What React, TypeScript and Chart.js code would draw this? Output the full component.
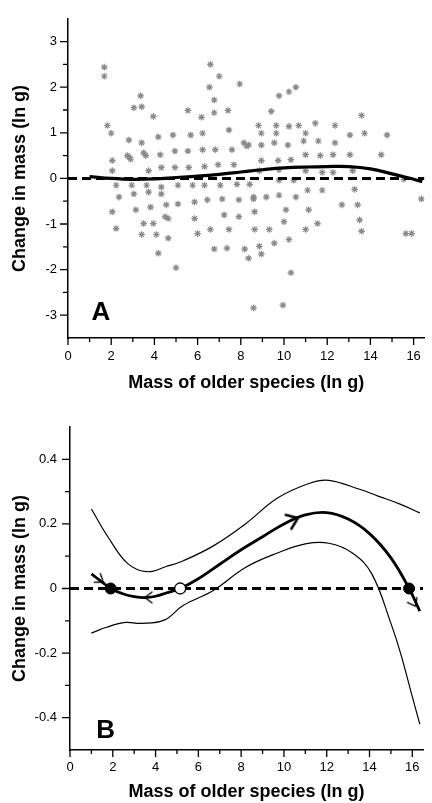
import React, { useEffect, useRef } from 'react';
import { Chart, registerables } from 'chart.js';
Chart.register(...registerables);

// ---------- Panel A data ----------
const scatterX = [
  1.68, 1.68, 3.36, 3.41, 3.05, 3.95, 1.82, 2.0, 2.82, 3.41, 4.18, 4.86, 5.68, 6.23, 6.18, 6.77, 7.41, 6.59, 7.0, 7.95,
  6.55, 6.77, 5.55, 7.45, 8.14, 2.82, 3.5, 4.27, 4.95, 5.55, 6.23, 6.82, 7.59, 8.27, 2.05, 4.32, 4.95, 5.59, 6.32, 6.95,
  7.68, 3.73, 2.05, 10.55, 9.77, 10.23, 9.41, 8.82, 9.64, 10.23, 10.68, 11.45, 12.36, 8.95, 9.64, 11.0, 13.59, 13.05, 13.73, 14.77,
  8.36, 8.95, 9.55, 10.18, 10.91, 11.59, 12.36, 8.95, 9.73, 10.32, 11.0, 11.68, 12.27, 13.05, 14.5, 11.0, 11.77, 12.27, 15.55, 8.86,
  9.77, 13.18, 2.23, 2.95, 3.64, 4.32, 5.09, 5.77, 6.32, 7.05, 7.82, 8.41, 2.36, 3.05, 3.73, 4.32, 5.09, 5.86, 6.45, 7.14,
  7.91, 8.59, 3.14, 3.82, 4.55, 2.05, 4.64, 5.86, 7.23, 7.91, 3.5, 3.95, 4.5, 4.09, 3.41, 4.64, 6.0, 6.59, 7.45, 4.18,
  6.77, 7.36, 8.18, 5.0, 2.23, 9.77, 10.45, 13.27, 8.59, 9.18, 9.77, 10.55, 11.09, 11.77, 10.09, 8.64, 11.14, 12.68, 13.41, 10.0,
  11.55, 13.5, 16.36, 8.64, 9.32, 11.0, 13.59, 9.55, 10.23, 8.86, 15.64, 15.91, 8.36, 8.95, 10.32, 8.59, 9.95, 2.9, 2.75, 3.6
];
const scatterY = [
  2.44, 2.24, 1.81, 1.57, 1.55, 1.36, 1.16, 0.99, 0.84, 0.78, 0.91, 0.95, 0.95, 0.99, 1.34, 1.44, 1.49, 2.5, 2.24, 2.07,
  2.0, 1.72, 1.49, 1.06, 0.78, 0.47, 0.56, 0.52, 0.6, 0.6, 0.63, 0.63, 0.63, 0.71, 0.39, 0.24, 0.24, 0.24, 0.26, 0.3,
  0.3, 0.17, 0.17, 2.0, 1.81, 1.9, 1.47, 1.16, 1.16, 1.14, 1.16, 1.21, 1.16, 0.99, 0.99, 0.99, 1.38, 0.95, 0.99, 0.95,
  0.73, 0.73, 0.78, 0.73, 0.82, 0.82, 0.78, 0.39, 0.39, 0.41, 0.52, 0.5, 0.52, 0.52, 0.52, 0.17, 0.13, 0.13, -0.02, 0.17,
  0.19, 0.17, -0.15, -0.15, -0.15, -0.19, -0.15, -0.15, -0.15, -0.15, -0.13, -0.13, -0.41, -0.34, -0.3, -0.34, -0.56, -0.52, -0.47, -0.45,
  -0.47, -0.45, -0.69, -0.63, -0.58, -0.73, -0.88, -0.88, -0.8, -0.84, -0.99, -0.99, -0.84, -1.23, -1.23, -1.31, -1.21, -1.12, -1.12, -1.64,
  -1.55, -1.53, -1.55, -1.96, -1.1, -0.04, -0.04, -0.24, -0.41, -0.41, -0.37, -0.41, -0.26, -0.26, -0.69, -0.73, -0.69, -0.58, -0.58, -0.95,
  -0.99, -0.91, -0.45, -1.12, -1.12, -1.12, -1.16, -1.42, -1.34, -1.49, -1.21, -1.21, -1.75, -1.66, -2.07, -2.84, -2.78, 0.42, 0.5, 0.5
];
const fitAX = [1.0, 2.0, 3.0, 4.0, 5.0, 6.0, 7.0, 8.0, 9.0, 10.0, 11.0, 12.0, 13.0, 14.0, 15.0, 16.0, 16.4];
const fitAY = [0.04, 0.0, -0.02, -0.01, 0.02, 0.05, 0.09, 0.14, 0.19, 0.23, 0.25, 0.26, 0.26, 0.21, 0.1, -0.02, -0.07];

// ---------- Panel B data ----------
const fitBX = [1.0, 1.5, 1.9, 2.5, 3.0, 3.5, 4.0, 4.5, 5.15, 6.0, 7.0, 8.0, 9.0, 10.0, 11.0, 12.0, 13.0, 14.0, 15.0, 15.85, 16.35];
const fitBY = [0.045, 0.02, 0.0, -0.017, -0.025, -0.028, -0.024, -0.014, 0.0, 0.03, 0.075, 0.12, 0.16, 0.2, 0.228, 0.235, 0.215, 0.17, 0.095, 0.0, -0.07];
const upperBX = [1.0, 1.8, 2.7, 3.6, 4.5, 5.3, 6.7, 8.2, 9.7, 11.2, 12.1, 13.5, 14.4, 15.4, 16.35];
const upperBY = [0.246, 0.157, 0.077, 0.052, 0.068, 0.086, 0.132, 0.2, 0.28, 0.326, 0.335, 0.308, 0.286, 0.262, 0.234];
const lowerBX = [1.0, 1.7, 2.6, 3.3, 4.4, 5.3, 6.7, 8.2, 9.7, 11.0, 12.1, 13.2, 14.1, 15.0, 15.45, 16.0, 16.35];
const lowerBY = [-0.138, -0.12, -0.105, -0.108, -0.098, -0.052, -0.006, 0.065, 0.11, 0.138, 0.14, 0.11, 0.046, -0.108, -0.2, -0.335, -0.42];
const stableX = [1.9, 15.85];
const stableY = [0, 0];
const unstableX = [5.15];
const unstableY = [0];
const arrowX = [1.55, 3.5, 10.65, 16.15];
const arrowY = [0.02, -0.028, 0.218, -0.055];
const arrowAngle = [35, 180, -22, 62];

const zeroLineX = [0, 16.5];
const zeroLineY = [0, 0];

// ---------- Axis ticks ----------
const xTickValues = [0, 2, 4, 6, 8, 10, 12, 14, 16];
const xTickLabels = ['0', '2', '4', '6', '8', '10', '12', '14', '16'];
const xMinorTicks = [1, 3, 5, 7, 9, 11, 13, 15];
const yTickValuesA = [-3, -2, -1, 0, 1, 2, 3];
const yTickLabelsA = ['-3', '-2', '-1', '0', '1', '2', '3'];
const yMinorTicksA = [-2.5, -1.5, -0.5, 0.5, 1.5, 2.5];
const yTickValuesB = [-0.4, -0.2, 0, 0.2, 0.4];
const yTickLabelsB = ['-0.4', '-0.2', '0', '0.2', '0.4'];
const yMinorTicksB = [-0.3, -0.1, 0.1, 0.3];

const FONT = "'Liberation Sans', Arial, Helvetica, sans-serif";

function pts(xs: number[], ys: number[]) {
  return xs.map((x, i) => ({ x, y: ys[i] }));
}

function tickPlugin(xMajor: number[], xMinor: number[], yMajor: number[], yMinor: number[], letter: string, letterX: number, letterY: number) {
  return {
    id: 'customTicks',
    afterDraw(chart: any) {
      const ctx = chart.ctx;
      const xs = chart.scales.x;
      const ys = chart.scales.y;
      const a = chart.chartArea;
      ctx.save();
      ctx.strokeStyle = '#000';
      ctx.lineWidth = 1.3;
      ctx.beginPath();
      xMajor.forEach((v) => { const p = xs.getPixelForValue(v); ctx.moveTo(p, a.bottom); ctx.lineTo(p, a.bottom + 7); });
      xMinor.forEach((v) => { const p = xs.getPixelForValue(v); ctx.moveTo(p, a.bottom); ctx.lineTo(p, a.bottom + 4); });
      yMajor.forEach((v) => { const p = ys.getPixelForValue(v); ctx.moveTo(a.left, p); ctx.lineTo(a.left - 8, p); });
      yMinor.forEach((v) => { const p = ys.getPixelForValue(v); ctx.moveTo(a.left, p); ctx.lineTo(a.left - 5, p); });
      ctx.stroke();
      ctx.fillStyle = '#000';
      ctx.font = `bold 26px ${FONT}`;
      ctx.textAlign = 'left';
      ctx.textBaseline = 'alphabetic';
      ctx.fillText(letter, xs.getPixelForValue(letterX), ys.getPixelForValue(letterY));
      ctx.restore();
    },
  };
}

function scales(yMin: number, yMax: number, yVals: number[], yLabels: string[], yWidth: number, yPad: number, xHeight: number, xPad: number, titlePad: number) {
  return {
    x: {
      type: 'linear',
      min: 0,
      max: 16.5,
      afterFit: (s: any) => { s.height = xHeight; },
      afterBuildTicks: (s: any) => { s.ticks = xTickValues.map((v) => ({ value: v })); },
      ticks: {
        padding: xPad,
        autoSkip: false,
        maxRotation: 0,
        color: '#000',
        font: { family: FONT, size: 13 },
        callback: (v: number) => { const i = xTickValues.indexOf(v); return i >= 0 ? xTickLabels[i] : ''; },
      },
      grid: { drawOnChartArea: false, drawTicks: false },
      border: { color: '#000', width: 1.5 },
      title: { display: true, text: 'Mass of older species (ln g)', color: '#000', font: { family: FONT, size: 18, weight: 'bold' }, padding: { top: 0, bottom: titlePad } },
    },
    y: {
      type: 'linear',
      min: yMin,
      max: yMax,
      afterFit: (s: any) => { s.width = yWidth; },
      afterBuildTicks: (s: any) => { s.ticks = yVals.map((v) => ({ value: v })); },
      ticks: {
        padding: yPad,
        autoSkip: false,
        color: '#000',
        font: { family: FONT, size: 13 },
        callback: (v: number) => { const i = yVals.findIndex((t) => Math.abs(t - v) < 1e-9); return i >= 0 ? yLabels[i] : ''; },
      },
      grid: { drawOnChartArea: false, drawTicks: false },
      border: { color: '#000', width: 1.5 },
      title: { display: true, text: 'Change in mass (ln g)', color: '#000', font: { family: FONT, size: 18, weight: 'bold' }, padding: { top: 9, bottom: 0 } },
    },
  };
}

function makeChevron(size: number, width: number) {
  const c = document.createElement('canvas');
  c.width = 32; c.height = 32;
  const g = c.getContext('2d')!;
  g.strokeStyle = '#000';
  g.lineWidth = width;
  g.lineCap = 'round';
  g.lineJoin = 'round';
  g.beginPath();
  g.moveTo(16 - size, 16 - size * 0.75);
  g.lineTo(16, 16);
  g.lineTo(16 - size, 16 + size * 0.75);
  g.stroke();
  return c;
}

function PanelA() {
  const ref = useRef<HTMLCanvasElement>(null);
  useEffect(() => {
    const chart = new Chart(ref.current!, {
      type: 'scatter',
      data: {
        datasets: [
          { data: pts(fitAX, fitAY), showLine: true, borderColor: '#000', borderWidth: 3.2, pointRadius: 0, tension: 0.4, order: 1 },
          { data: pts(zeroLineX, zeroLineY), showLine: true, borderColor: '#000', borderWidth: 3, borderDash: [9, 5], pointRadius: 0, order: 2 },
          { data: pts(scatterX, scatterY), pointStyle: 'star', pointRadius: 3.3, borderColor: '#8a8a8a', borderWidth: 1.2, backgroundColor: '#8a8a8a', order: 3 },
        ],
      },
      options: {
        animation: false,
        responsive: false,
        maintainAspectRatio: false,
        layout: { padding: { top: 14, right: 1, left: 0, bottom: 0 } },
        plugins: { legend: { display: false }, tooltip: { enabled: false } },
        scales: scales(-3.5, 3.5, yTickValuesA, yTickLabelsA, 68, 11, 62, 11, 6) as any,
      },
      plugins: [tickPlugin(xTickValues, xMinorTicks, yTickValuesA, yMinorTicksA, 'A', 1.09, -3.11)],
    } as any);
    return () => chart.destroy();
  }, []);
  return <canvas ref={ref} width={432} height={400} style={{ display: 'block', position: 'absolute', left: 0, top: 0 }} />;
}

function PanelB() {
  const ref = useRef<HTMLCanvasElement>(null);
  useEffect(() => {
    const small = makeChevron(7, 1.5);
    const big = makeChevron(10, 2.6);
    const chart = new Chart(ref.current!, {
      type: 'scatter',
      data: {
        datasets: [
          { data: pts(arrowX, arrowY), pointStyle: [small, small, big, small], rotation: arrowAngle, pointRadius: 8, order: 0 },
          { data: pts(stableX, stableY), pointStyle: 'circle', pointRadius: 5.5, backgroundColor: '#000', borderColor: '#000', borderWidth: 1, order: 0.5 },
          { data: pts(unstableX, unstableY), pointStyle: 'circle', pointRadius: 5.5, backgroundColor: '#fff', borderColor: '#000', borderWidth: 1.3, order: 0.5 },
          { data: pts(fitBX, fitBY), showLine: true, borderColor: '#000', borderWidth: 2.8, pointRadius: 0, tension: 0.4, order: 1 },
          { data: pts(zeroLineX, zeroLineY), showLine: true, borderColor: '#000', borderWidth: 3, borderDash: [9, 5], pointRadius: 0, order: 2 },
          { data: pts(upperBX, upperBY), showLine: true, borderColor: '#000', borderWidth: 1.2, pointRadius: 0, tension: 0.4, order: 3 },
          { data: pts(lowerBX, lowerBY), showLine: true, borderColor: '#000', borderWidth: 1.2, pointRadius: 0, tension: 0.4, order: 3 },
        ],
      },
      options: {
        animation: false,
        responsive: false,
        maintainAspectRatio: false,
        layout: { padding: { top: 27, right: 0, left: 0, bottom: 0 } },
        plugins: { legend: { display: false }, tooltip: { enabled: false } },
        scales: scales(-0.5, 0.5, yTickValuesB, yTickLabelsB, 70, 13, 53, 10, 0) as any,
      },
      plugins: [tickPlugin(xTickValues, xMinorTicks, yTickValuesB, yMinorTicksB, 'B', 1.23, -0.463)],
    } as any);
    return () => chart.destroy();
  }, []);
  return <canvas ref={ref} width={432} height={403} style={{ display: 'block', position: 'absolute', left: 0, top: 400 }} />;
}

export default function App() {
  return (
    <div style={{ position: 'absolute', left: 0, top: 0, width: 432, height: 803, background: '#fff' }}>
      <PanelA />
      <PanelB />
    </div>
  );
}
